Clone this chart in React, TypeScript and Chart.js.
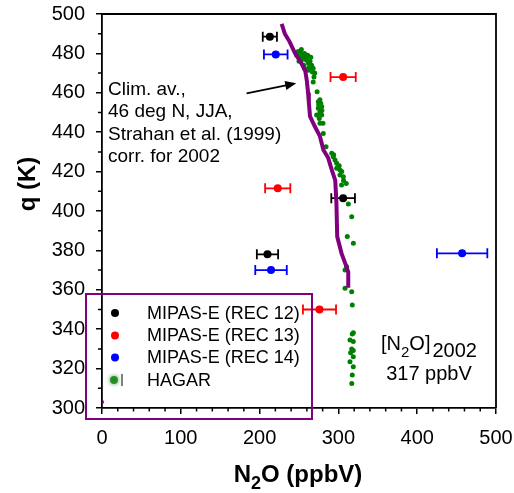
import React, { useEffect, useRef } from "react";
import { Chart, registerables } from "chart.js";

Chart.register(...registerables);

// ---------- data ----------
const rec12X = [213, 306, 210];
const rec12Q = [488.5, 406.5, 378];
const rec12Err = [9, 15, 13.5];

const rec13X = [306, 223, 276];
const rec13Q = [468, 411.5, 350];
const rec13Err = [16, 16, 21];

const rec14X = [220.5, 214.5, 457];
const rec14Q = [479.5, 370, 378.5];
const rec14Err = [15, 20, 32];

const climX = [228, 232, 238, 245, 253, 258, 260, 261.5, 262.5, 264, 270, 276.5, 281, 287, 291.5, 296, 297.5, 298.5, 304, 309, 312.5, 312.5];
const climQ = [495, 490, 486, 480, 475, 471, 466, 460, 455, 448, 443, 438, 431, 427, 421, 415.5, 404, 387, 378.5, 373, 369, 361];

const strayX = [0];
const strayQ = [303];

const hagarX = [
  249, 253, 257, 261, 251, 255, 259.5, 264, 247, 266, 268, 270, 262, 250, 256, 263, 267, 265, 258, 252, 268, 273,
  254, 260, 262, 257, 265, 269, 253,
  274.5, 277.5, 278.8, 274.5, 276.6, 272.4, 278.8, 275.7, 276.5, 279, 277, 275,
  276.6, 280.4, 280.8, 284.3,
  291.5, 293.5, 295.7, 297.8, 299.9, 302, 302, 306.3, 297.8, 304.2, 304, 301, 294, 306.5, 310,
  312.6, 316.9, 311.3, 319, 310.5, 308.4, 308.4, 316.9, 317.6,
  317.6, 319, 314.7, 318.9, 316.9, 318.9, 315.5, 318.9, 314.7, 318.9, 317.6, 317,
];
const hagarQ = [
  481, 482, 480, 479, 478, 477.5, 476.5, 476, 479, 474, 472.5, 470, 471.5, 476, 474, 473, 470.5, 478, 478.5, 480.5, 465.5, 460.5,
  479.5, 477.5, 475, 472.5, 472, 468, 476.5,
  455.5, 454.7, 453, 452.1, 450.4, 448.7, 448.7, 447, 456.5, 451, 449.5, 453.8,
  444.5, 444.5, 439.4, 432.6,
  429.3, 427.6, 425.9, 424.2, 422.5, 420.8, 418.3, 417.4, 421.7, 420, 413.2, 423, 428.5, 415.5, 414,
  403.6, 397.1, 387, 383.6, 371.7, 370.1, 360.8, 359, 352.3,
  337.6, 338.2, 334.5, 333.7, 329.9, 329.2, 328, 326, 323.5, 321, 316.8, 312.5,
];

const xMajorTicks = [0, 100, 200, 300, 400, 500];
const yMajorTicks = [300, 320, 340, 360, 380, 400, 420, 440, 460, 480, 500];

const legendLabels = ["MIPAS-E (REC 12)", "MIPAS-E (REC 13)", "MIPAS-E (REC 14)", "HAGAR"];
const noteLines = ["Clim. av.,", "46 deg N, JJA,", "Strahan et al. (1999)", "corr. for 2002"];

const FONT = "'Liberation Sans', Arial, sans-serif";
const BLACK = "#000000";
const RED = "#ff0000";
const BLUE = "#0000ff";
const GREEN = "#008000";
const PURPLE = "#800080";

const pts = (xs: number[], ys: number[]) => xs.map((x, i) => ({ x, y: ys[i] }));

const errorSeries = [
  { xs: rec12X, qs: rec12Q, es: rec12Err, color: BLACK },
  { xs: rec13X, qs: rec13Q, es: rec13Err, color: RED },
  { xs: rec14X, qs: rec14Q, es: rec14Err, color: BLUE },
];

const decor = {
  id: "decor",
  beforeDatasetsDraw(chart: any) {
    const ctx = chart.ctx;
    const xs = chart.scales.x;
    const ys = chart.scales.y;
    ctx.save();
    ctx.lineWidth = 1.8;
    for (const s of errorSeries) {
      ctx.strokeStyle = s.color;
      s.xs.forEach((x, i) => {
        const y = ys.getPixelForValue(s.qs[i]);
        const a = xs.getPixelForValue(x - s.es[i]);
        const b = xs.getPixelForValue(x + s.es[i]);
        ctx.beginPath();
        ctx.moveTo(a, y);
        ctx.lineTo(b, y);
        ctx.moveTo(a, y - 5);
        ctx.lineTo(a, y + 5);
        ctx.moveTo(b, y - 5);
        ctx.lineTo(b, y + 5);
        ctx.stroke();
      });
    }
    ctx.restore();
  },
  afterDraw(chart: any) {
    const ctx = chart.ctx;
    const xs = chart.scales.x;
    const ys = chart.scales.y;
    const area = chart.chartArea;
    ctx.save();
    // frame top/right
    ctx.strokeStyle = BLACK;
    ctx.lineWidth = 1.8;
    ctx.beginPath();
    ctx.moveTo(area.left, area.top);
    ctx.lineTo(area.right, area.top);
    ctx.lineTo(area.right, area.bottom);
    ctx.stroke();
    // minor ticks
    ctx.lineWidth = 1.5;
    ctx.beginPath();
    for (let v = 20; v < 500; v += 20) {
      if (v % 100 === 0) continue;
      const px = xs.getPixelForValue(v);
      ctx.moveTo(px, area.bottom);
      ctx.lineTo(px, area.bottom + 3.5);
    }
    for (let q = 310; q < 500; q += 20) {
      const py = ys.getPixelForValue(q);
      ctx.moveTo(area.left - 4, py);
      ctx.lineTo(area.left, py);
    }
    ctx.stroke();

    // annotation text
    ctx.fillStyle = BLACK;
    ctx.font = `19px ${FONT}`;
    ctx.textAlign = "left";
    ctx.textBaseline = "alphabetic";
    noteLines.forEach((t, i) => ctx.fillText(t, 108, 95 + i * 22.3));

    // arrow
    const ax0 = xs.getPixelForValue(183.5);
    const ay0 = ys.getPixelForValue(459.7);
    const ax1 = xs.getPixelForValue(246.5);
    const ay1 = ys.getPixelForValue(464.8);
    const ang = Math.atan2(ay1 - ay0, ax1 - ax0);
    ctx.strokeStyle = BLACK;
    ctx.lineWidth = 1.8;
    ctx.beginPath();
    ctx.moveTo(ax0, ay0);
    ctx.lineTo(ax1 - 8 * Math.cos(ang), ay1 - 8 * Math.sin(ang));
    ctx.stroke();
    ctx.beginPath();
    ctx.moveTo(ax1, ay1);
    ctx.lineTo(ax1 - 11 * Math.cos(ang) + 4.5 * Math.sin(ang), ay1 - 11 * Math.sin(ang) - 4.5 * Math.cos(ang));
    ctx.lineTo(ax1 - 11 * Math.cos(ang) - 4.5 * Math.sin(ang), ay1 - 11 * Math.sin(ang) + 4.5 * Math.cos(ang));
    ctx.closePath();
    ctx.fill();

    // [N2O]2002 / 317 ppbV
    {
      const big = `20px ${FONT}`;
      const sub = `15px ${FONT}`;
      ctx.font = big;
      const w1 = ctx.measureText("[N").width;
      const w3 = ctx.measureText("O]").width;
      const w4 = ctx.measureText("2002").width;
      ctx.font = sub;
      const w2 = ctx.measureText("2").width;
      const total = w1 + w2 + w3 + w4 + 2;
      let x = 429 - total / 2;
      ctx.font = big;
      ctx.fillText("[N", x, 350);
      x += w1;
      ctx.font = sub;
      ctx.fillText("2", x, 357);
      x += w2;
      ctx.font = big;
      ctx.fillText("O]", x, 350);
      x += w3 + 2;
      ctx.fillText("2002", x, 357);
      ctx.textAlign = "center";
      ctx.fillText("317 ppbV", 429, 380);
      ctx.textAlign = "left";
    }

    // legend box
    ctx.strokeStyle = PURPLE;
    ctx.lineWidth = 2;
    ctx.strokeRect(86, 294, 226, 125);
    const rowY = [313, 335.5, 357.5, 380];
    const cols = [BLACK, RED, BLUE];
    cols.forEach((c, i) => {
      ctx.fillStyle = c;
      ctx.beginPath();
      ctx.arc(115, rowY[i], 4, 0, Math.PI * 2);
      ctx.fill();
    });
    // HAGAR marker
    ctx.save();
    ctx.fillStyle = "rgba(0,128,0,0.75)";
    ctx.shadowColor = "rgba(0,110,0,0.9)";
    ctx.shadowBlur = 4;
    ctx.beginPath();
    ctx.arc(114, rowY[3], 4, 0, Math.PI * 2);
    ctx.fill();
    ctx.restore();
    ctx.strokeStyle = "#808080";
    ctx.lineWidth = 2;
    ctx.beginPath();
    ctx.moveTo(122, rowY[3] - 6);
    ctx.lineTo(122, rowY[3] + 6);
    ctx.stroke();

    ctx.fillStyle = BLACK;
    ctx.font = `18px ${FONT}`;
    ctx.textBaseline = "middle";
    legendLabels.forEach((t, i) => ctx.fillText(t, 147, rowY[i] + 1));

    // x title N2O (ppbV)
    {
      ctx.textBaseline = "alphabetic";
      const big = `bold 24px ${FONT}`;
      const sub = `bold 18px ${FONT}`;
      ctx.font = big;
      const a = ctx.measureText("N").width;
      const c = ctx.measureText("O (ppbV)").width;
      ctx.font = sub;
      const b = ctx.measureText("2").width;
      let x = 298 - (a + b + c) / 2;
      ctx.font = big;
      ctx.fillText("N", x, 482);
      x += a;
      ctx.font = sub;
      ctx.fillText("2", x, 489);
      x += b;
      ctx.font = big;
      ctx.fillText("O (ppbV)", x, 482);
    }
    // y title
    ctx.save();
    ctx.translate(35, 184);
    ctx.rotate(-Math.PI / 2);
    ctx.font = `bold 24px ${FONT}`;
    ctx.textAlign = "center";
    ctx.textBaseline = "alphabetic";
    ctx.fillText("q (K)", 0, 0);
    ctx.restore();

    ctx.restore();
  },
};

const noPad = (s: any) => {
  s.paddingTop = 0;
  s.paddingBottom = 0;
  s.paddingLeft = 0;
  s.paddingRight = 0;
};

export default function App() {
  const ref = useRef<HTMLCanvasElement | null>(null);
  useEffect(() => {
    if (!ref.current) return;
    const chart = new Chart(ref.current, {
      type: "scatter",
      data: {
        datasets: [
          { label: legendLabels[0], data: pts(rec12X, rec12Q), backgroundColor: BLACK, borderColor: BLACK, pointRadius: 4, pointBorderWidth: 0 },
          { label: legendLabels[1], data: pts(rec13X, rec13Q), backgroundColor: RED, borderColor: RED, pointRadius: 4, pointBorderWidth: 0 },
          { label: legendLabels[2], data: pts(rec14X, rec14Q), backgroundColor: BLUE, borderColor: BLUE, pointRadius: 4, pointBorderWidth: 0 },
          { label: "Clim", data: pts(climX, climQ), showLine: true, borderColor: PURPLE, borderWidth: 4, pointRadius: 0, fill: false, tension: 0 } as any,
          { label: "stray", data: pts(strayX, strayQ), backgroundColor: PURPLE, borderColor: PURPLE, pointRadius: 2, pointBorderWidth: 0 },
          { label: legendLabels[3], data: pts(hagarX, hagarQ), backgroundColor: GREEN, borderColor: GREEN, pointRadius: 2.5, pointBorderWidth: 0 },
        ],
      },
      options: {
        animation: false,
        responsive: false,
        maintainAspectRatio: false,
        layout: { padding: { top: 14, right: 18, left: 0, bottom: 0 } },
        plugins: { legend: { display: false }, tooltip: { enabled: false } },
        scales: {
          x: {
            type: "linear",
            min: 0,
            max: 500,
            afterBuildTicks: (s: any) => { s.ticks = xMajorTicks.map((v) => ({ value: v })); },
            afterFit: (s: any) => { s.height = 85; noPad(s); },
            ticks: { font: { family: FONT, size: 20 }, color: BLACK, padding: 12, maxRotation: 0 },
            grid: { drawOnChartArea: false, drawTicks: true, tickLength: 6, color: BLACK, lineWidth: 1.5 },
            border: { color: BLACK, width: 1.8 },
          },
          y: {
            type: "linear",
            min: 300,
            max: 500,
            afterBuildTicks: (s: any) => { s.ticks = yMajorTicks.map((v) => ({ value: v })); },
            afterFit: (s: any) => { s.width = 102; noPad(s); },
            ticks: { font: { family: FONT, size: 20 }, color: BLACK, padding: 11 },
            grid: { drawOnChartArea: false, drawTicks: true, tickLength: 6, color: BLACK, lineWidth: 1.5 },
            border: { color: BLACK, width: 1.8 },
          },
        },
      },
      plugins: [decor],
    });
    return () => chart.destroy();
  }, []);
  return (
    <div style={{ position: "absolute", left: 0, top: 0, width: 514, height: 493, background: "#fff" }}>
      <canvas ref={ref} width={514} height={493} style={{ display: "block", width: 514, height: 493 }} />
    </div>
  );
}
